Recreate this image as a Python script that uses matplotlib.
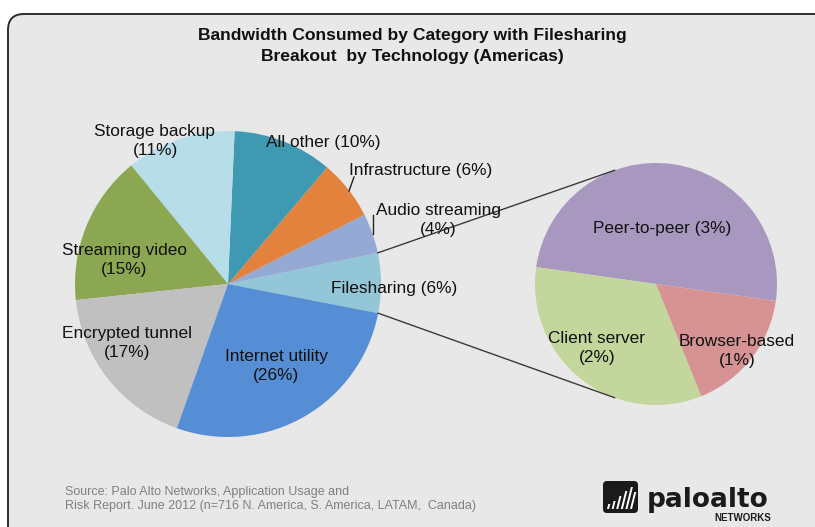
import matplotlib.pyplot as plt
import numpy as np
from matplotlib.patches import FancyBboxPatch, Polygon

plt.rcParams['font.family'] = ['Liberation Sans', 'DejaVu Sans']

# main breakdown, counter-clockwise from the filesharing slice
categories = ["Filesharing", "Audio streaming", "Infrastructure", "All other",
              "Storage backup", "Streaming video", "Encrypted tunnel", "Internet utility"]
shares = [6, 4, 6, 10, 11, 15, 17, 26]
colors = ["#93c6d6", "#95a9d5", "#e2823c", "#3f99b3", "#b7dde8",
          "#8ca751", "#c0c0c0", "#568ed6"]

# filesharing split by technology
tech = ["Peer-to-peer", "Client server", "Browser-based"]
tech_shares = [3, 2, 1]
tech_colors = ["#a898c0", "#c3d69c", "#d79393"]

W, H = 815, 527
fig = plt.figure(figsize=(W / 100, H / 100), dpi=100)
ax = fig.add_axes([0, 0, 1, 1])


def Y(y):
    # image rows -> axes y
    return H - y


# panel background
panel = FancyBboxPatch((8, -40), 840, Y(14) + 40, boxstyle="round,pad=0,rounding_size=16",
                       facecolor="#e8e8e8", edgecolor="#2b2b2b", linewidth=1.4, zorder=0)
ax.add_patch(panel)

main_c, main_r = (228, Y(284)), 153
sub_c, sub_r = (656, Y(284)), 121

wedges, _ = ax.pie(shares, colors=colors, startangle=-11, center=main_c, radius=main_r,
                   wedgeprops=dict(linewidth=0), frame=True)
sub_wedges, _ = ax.pie(tech_shares, colors=tech_colors, startangle=-8, center=sub_c,
                       radius=sub_r, wedgeprops=dict(linewidth=0), frame=True)

# connector lines from the filesharing slice to the breakout pie
fs = wedges[0]
for a_main, a_sub in [(fs.theta2, 110), (fs.theta1, -110)]:
    p0 = (main_c[0] + main_r * np.cos(np.radians(a_main)),
          main_c[1] + main_r * np.sin(np.radians(a_main)))
    p1 = (sub_c[0] + sub_r * np.cos(np.radians(a_sub)),
          sub_c[1] + sub_r * np.sin(np.radians(a_sub)))
    ax.plot([p0[0], p1[0]], [p0[1], p1[1]], color="#3a3a3a", lw=1, zorder=3)

lab = dict(fontsize=12.4, color="#111111", ha="center", va="center",
           linespacing=1.32, zorder=4)
label_pos = {
    "Filesharing": (394, 289, False),
    "Audio streaming": (438, 220, True),
    "Infrastructure": (421, 171, False),
    "All other": (323, 142, False),
    "Storage backup": (155, 141, True),
    "Streaming video": (124, 260, True),
    "Encrypted tunnel": (127, 343, True),
    "Internet utility": (276, 366, True),
}
for name, v in zip(categories, shares):
    x, y, two = label_pos[name]
    sep = "\n" if two else " "
    ax.text(x, Y(y), f"{name}{sep}({v}%)", **lab)

tech_pos = {
    "Peer-to-peer": (662, 228, False),
    "Client server": (597, 348, True),
    "Browser-based": (737, 351, True),
}
for name, v in zip(tech, tech_shares):
    x, y, two = tech_pos[name]
    sep = "\n" if two else " "
    ax.text(x, Y(y), f"{name}{sep}({v}%)", **lab)

# leader ticks
ax.plot([354, 349], [Y(177), Y(191)], color="#222222", lw=1, zorder=3)
ax.plot([373, 373], [Y(215), Y(234)], color="#222222", lw=1, zorder=3)

ax.text(412, Y(46), "Bandwidth Consumed by Category with Filesharing\nBreakout  by Technology (Americas)",
        fontsize=12.6, fontweight="bold", ha="center", va="center", linespacing=1.5,
        color="#111111")

ax.text(65, Y(499), "Source: Palo Alto Networks, Application Usage and\n"
        "Risk Report. June 2012 (n=716 N. America, S. America, LATAM,  Canada)",
        fontsize=9, color="#808080", ha="left", va="center", linespacing=1.2)

# logo
ax.add_patch(FancyBboxPatch((603, Y(513)), 35, 32, boxstyle="round,pad=0,rounding_size=4",
                            facecolor="#1a1a1a", edgecolor="none", zorder=2))
base = Y(509)
for i, h in enumerate([5, 8, 13, 18, 22, 17]):
    x0 = 607 + i * 4.6
    ax.add_patch(Polygon([(x0, base), (x0 + 2, base), (x0 + 2 + h * 0.25, base + h),
                          (x0 + h * 0.25, base + h)],
                         closed=True, facecolor="white", edgecolor="none", zorder=3))
ax.text(647, Y(500), "paloalto", fontsize=19, fontweight="bold", color="#1a1a1a",
        family="DejaVu Sans", ha="left", va="center")
ax.text(771, Y(518), "NETWORKS", fontsize=7, fontweight="bold", color="#1a1a1a",
        ha="right", va="center")

ax.set_xlim(0, W)
ax.set_ylim(0, H)
ax.set_aspect("equal")
ax.axis("off")
fig.savefig("out.png", dpi=100, facecolor="white")
